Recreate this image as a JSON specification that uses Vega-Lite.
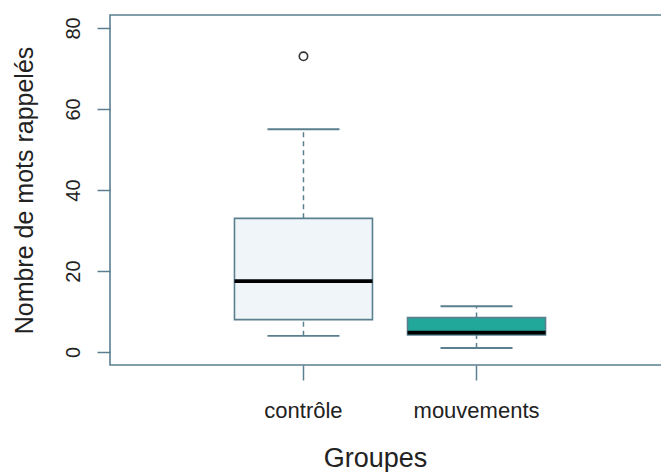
{
  "$schema": "https://vega.github.io/schema/vega-lite/v6.json",
  "autosize": "none",
  "width": 560,
  "height": 350,
  "padding": {"left": 110, "top": 15, "right": 0, "bottom": 107},
  "background": "white",
  "config": {
    "view": {"stroke": "#5a7f8f", "strokeWidth": 1.6},
    "font": "Liberation Sans"
  },
  "datasets": {
    "boxes": [
      {"groupe": "contrôle", "lower": 4, "q1": 8, "median": 17.5, "q3": 33, "upper": 55},
      {"groupe": "mouvements", "lower": 1, "q1": 4.2, "median": 4.8, "q3": 8.5, "upper": 11.3}
    ],
    "outliers": [
      {"groupe": "contrôle", "valeur": 73}
    ]
  },
  "encoding": {
    "x": {
      "field": "groupe",
      "type": "nominal",
      "scale": {"type": "band", "domain": ["contrôle", "mouvements"], "paddingInner": 0, "paddingOuter": 0.618},
      "axis": {
        "title": "Groupes",
        "titleFontSize": 27,
        "titleFontWeight": "normal",
        "titleColor": "#222",
        "titlePadding": 24,
        "titleX": 265,
        "labelAngle": 0,
        "labelFontSize": 22,
        "labelColor": "#222",
        "labelPadding": 20,
        "tickSize": 15,
        "tickColor": "#5a7f8f",
        "tickWidth": 1.5,
        "domain": false,
        "grid": false
      }
    }
  },
  "layer": [
    {
      "data": {"name": "boxes"},
      "mark": {"type": "rule", "strokeDash": [5, 4], "color": "#5a7f8f", "strokeWidth": 1.5},
      "encoding": {
        "y": {
          "field": "q3",
          "type": "quantitative",
          "scale": {"domain": [-3.2, 83.2], "nice": false, "zero": false},
          "axis": {
            "title": "Nombre de mots rappelés",
            "titleFontSize": 25,
            "titleFontWeight": "normal",
            "titleColor": "#222",
            "titlePadding": 26,
            "values": [0, 20, 40, 60, 80],
            "labelAngle": 270,
            "labelFontSize": 20,
            "labelColor": "#222",
            "labelPadding": 14,
            "tickSize": 13,
            "tickColor": "#5a7f8f",
            "tickWidth": 1.5,
            "domain": false,
            "grid": false
          }
        },
        "y2": {"field": "upper"}
      }
    },
    {
      "data": {"name": "boxes"},
      "mark": {"type": "rule", "strokeDash": [5, 4], "color": "#5a7f8f", "strokeWidth": 1.5},
      "encoding": {
        "y": {"field": "lower", "type": "quantitative"},
        "y2": {"field": "q1"}
      }
    },
    {
      "data": {"name": "boxes"},
      "mark": {"type": "tick", "size": 72, "thickness": 1.8, "color": "#5a7f8f", "opacity": 1, "orient": "horizontal"},
      "encoding": {"y": {"field": "upper", "type": "quantitative"}}
    },
    {
      "data": {"name": "boxes"},
      "mark": {"type": "tick", "size": 72, "thickness": 1.8, "color": "#5a7f8f", "opacity": 1, "orient": "horizontal"},
      "encoding": {"y": {"field": "lower", "type": "quantitative"}}
    },
    {
      "data": {"name": "boxes"},
      "mark": {"type": "bar", "width": 138, "stroke": "#5a7f8f", "strokeWidth": 1.6, "opacity": 1},
      "encoding": {
        "y": {"field": "q1", "type": "quantitative"},
        "y2": {"field": "q3"},
        "fill": {
          "field": "groupe",
          "type": "nominal",
          "scale": {"domain": ["contrôle", "mouvements"], "range": ["#f0f5fa", "#22a89a"]},
          "legend": null
        }
      }
    },
    {
      "data": {"name": "boxes"},
      "mark": {"type": "tick", "size": 138, "thickness": 3.8, "color": "#000000", "opacity": 1, "orient": "horizontal"},
      "encoding": {"y": {"field": "median", "type": "quantitative"}}
    },
    {
      "data": {"name": "outliers"},
      "mark": {"type": "point", "shape": "circle", "filled": false, "size": 70, "stroke": "#333", "strokeWidth": 1.6, "opacity": 1},
      "encoding": {"y": {"field": "valeur", "type": "quantitative"}}
    }
  ]
}
